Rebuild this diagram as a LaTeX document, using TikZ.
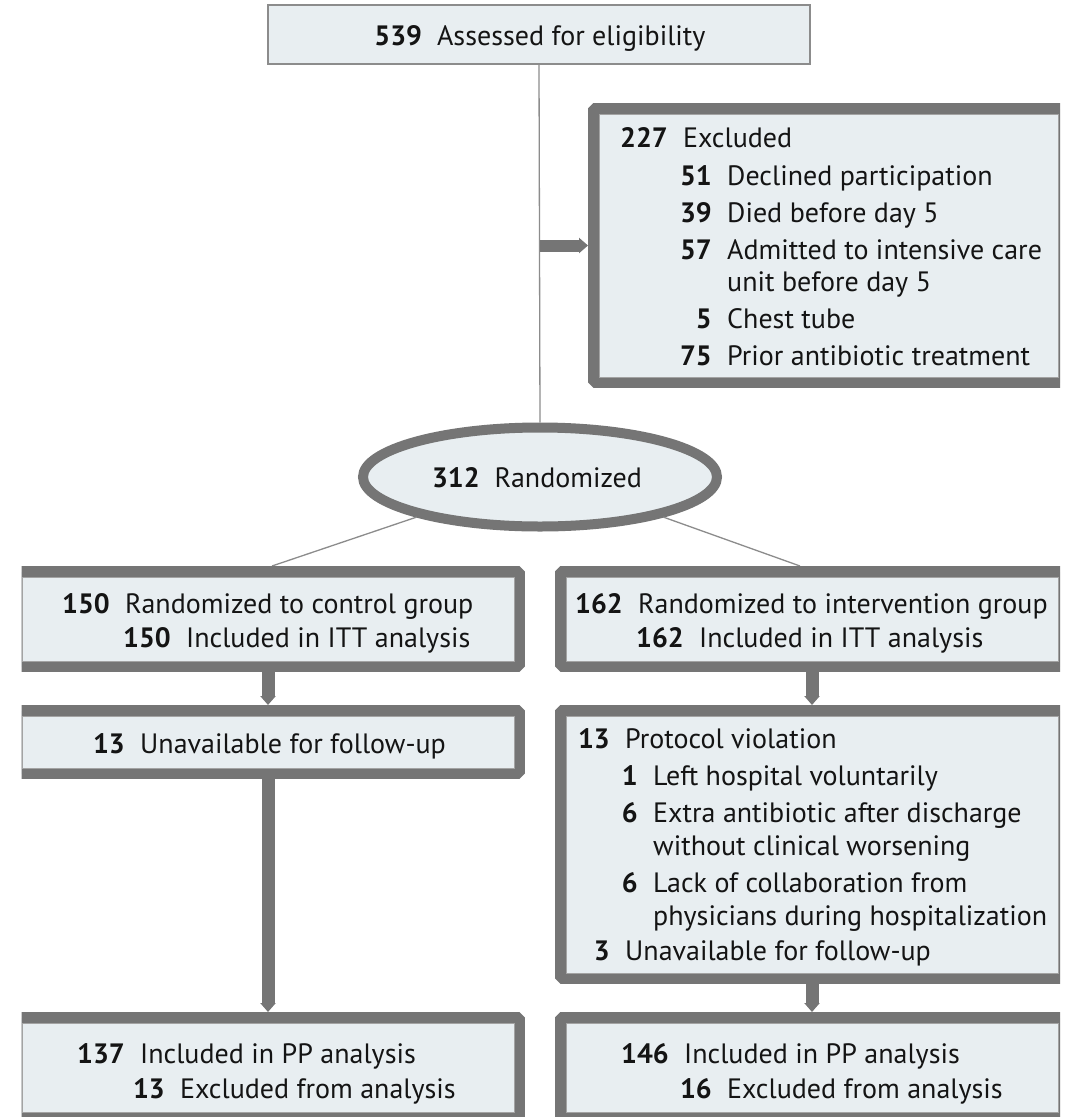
\documentclass[tikz,border=0pt]{standalone}
\usepackage{fontspec}
\setmainfont{PT Sans}
\usetikzlibrary{arrows.meta,shapes.geometric}
\definecolor{boxc}{RGB}{232,238,241}
\definecolor{thickc}{RGB}{117,117,117}
\definecolor{thinc}{RGB}{140,140,140}
\definecolor{txtc}{RGB}{20,20,20}
\tikzset{
  fontbase/.style={font=\fontsize{28pt}{32pt}\selectfont, text=txtc},
  tbox/.style={rectangle, fill=boxc, draw=thickc, line width=11pt, line join=bevel, inner sep=0pt, outer sep=5.5pt},
  plainbox/.style={rectangle, fill=boxc, draw=thinc, line width=1.2pt, inner sep=0pt},
  ovalbox/.style={ellipse, fill=boxc, draw=thickc, line width=10pt, inner sep=0pt, outer sep=5pt, fontbase},
  thinl/.style={draw=thinc, line width=1.3pt},
  innerl/.style={draw=thinc!80, line width=1pt},
  darr/.style={draw=thickc, line width=13pt, -{Triangle[length=9pt,width=15pt]}},
  harr/.style={draw=thickc, line width=12pt, -{Triangle[length=9pt,width=15pt]}},
  numn/.style={anchor=base east, inner sep=0pt, fontbase, font=\fontsize{28pt}{32pt}\selectfont\bfseries},
  txtn/.style={anchor=base west, inner sep=0pt, fontbase},
  ctrn/.style={anchor=base, inner sep=0pt, fontbase}
}
\newcommand\numtxt[5]{%
  \node[numn] (#1n) at (#2-15,#3) {#4};
  \node[txtn] (#1t) at (#2,#3) {#5};}
\newcommand\onlytxt[4]{%
  \node[txtn] (#1t) at (#2,#3) {#4};}
\newcommand\innerframe[1]{%
  \draw[innerl] ([shift={(11,11)}]#1.north west) rectangle ([shift={(-11,-11)}]#1.south east);}
\begin{document}
\begin{tikzpicture}[x=1pt,y=-1pt]
\useasboundingbox (0,0) rectangle (1077,1117);
\fill[white] (0,0) rectangle (1077,1117);
\begin{scope}
\clip (21.5,0) rectangle (1060,1117);
% top box
\node[plainbox, minimum width=542pt, minimum height=59pt] (top) at (539,34.5) {};
% randomized ellipse
\node[ovalbox, minimum width=354pt, minimum height=99pt] (rand) at (540,477) {};
% connectors (thin)
\draw[thinl] (top.south) -- (rand.north);
\coordinate (jx) at (540,245.5);
\draw[thinl] (rand.198) -- (272,566);
\draw[thinl] (rand.342) -- (800,566);
% boxes
\node[tbox, minimum width=470pt, minimum height=274pt] (EX) at (828.5,245.5) {};
\node[tbox, minimum width=503pt, minimum height=95pt] (L1) at (268,619) {};
\node[tbox, minimum width=503pt, minimum height=95pt] (R1) at (812,619) {};
\node[tbox, minimum width=503pt, minimum height=63pt] (L2) at (268,742) {};
\node[tbox, minimum width=503pt, minimum height=268pt] (R2) at (812,844.5) {};
\node[tbox, minimum width=503pt, minimum height=100pt] (L3) at (268,1067.5) {};
\node[tbox, minimum width=503pt, minimum height=100pt] (R3) at (812,1067.5) {};
\innerframe{EX}\innerframe{L1}\innerframe{R1}\innerframe{L2}\innerframe{R2}\innerframe{L3}\innerframe{R3}
% thick arrows
\draw[harr] (jx) -- (EX.west);
\draw[darr] (L1.south) -- (L2.north);
\draw[darr] (R1.south) -- (R2.north);
\draw[darr] (L2.south) -- (L3.north);
\draw[darr] (R2.south) -- (R3.north);
\end{scope}
% texts
\node[ctrn] (toptxt) at (540,45) {\textbf{539}\hspace{15pt}Assessed for eligibility};
\node[ctrn] (randtxt) at (537,487) {\textbf{312}\hspace{15pt}Randomized};
% excluded
\numtxt{e0}{683}{147}{227}{Excluded}
\numtxt{e1}{727}{185}{51}{Declined participation}
\numtxt{e2}{727}{222}{39}{Died before day 5}
\numtxt{e3}{727}{259}{57}{Admitted to intensive care}
\onlytxt{e4}{727}{291}{unit before day 5}
\numtxt{e5}{727}{328}{5}{Chest tube}
\numtxt{e6}{727}{365}{75}{Prior antibiotic treatment}
% L1 / R1
\numtxt{a1}{125}{613}{150}{Randomized to control group}
\numtxt{a2}{186}{647}{150}{Included in ITT analysis}
\numtxt{b1}{638}{613}{162}{Randomized to intervention group}
\numtxt{b2}{699}{647}{162}{Included in ITT analysis}
% L2
\numtxt{c1}{140}{753}{13}{Unavailable for follow-up}
% R2
\numtxt{d0}{625}{748}{13}{Protocol violation}
\numtxt{d1}{653}{785}{1}{Left hospital voluntarily}
\numtxt{d2}{653}{822}{6}{Extra antibiotic after discharge}
\onlytxt{d3}{653}{855}{without clinical worsening}
\numtxt{d4}{653}{892}{6}{Lack of collaboration from}
\onlytxt{d5}{653}{925}{physicians during hospitalization}
\numtxt{d6}{625}{960}{3}{Unavailable for follow-up}
% L3 / R3
\numtxt{f1}{140}{1063}{137}{Included in PP analysis}
\numtxt{f2}{180}{1098}{13}{Excluded from analysis}
\numtxt{g1}{684}{1063}{146}{Included in PP analysis}
\numtxt{g2}{727}{1098}{16}{Excluded from analysis}
\end{tikzpicture}
\end{document}
